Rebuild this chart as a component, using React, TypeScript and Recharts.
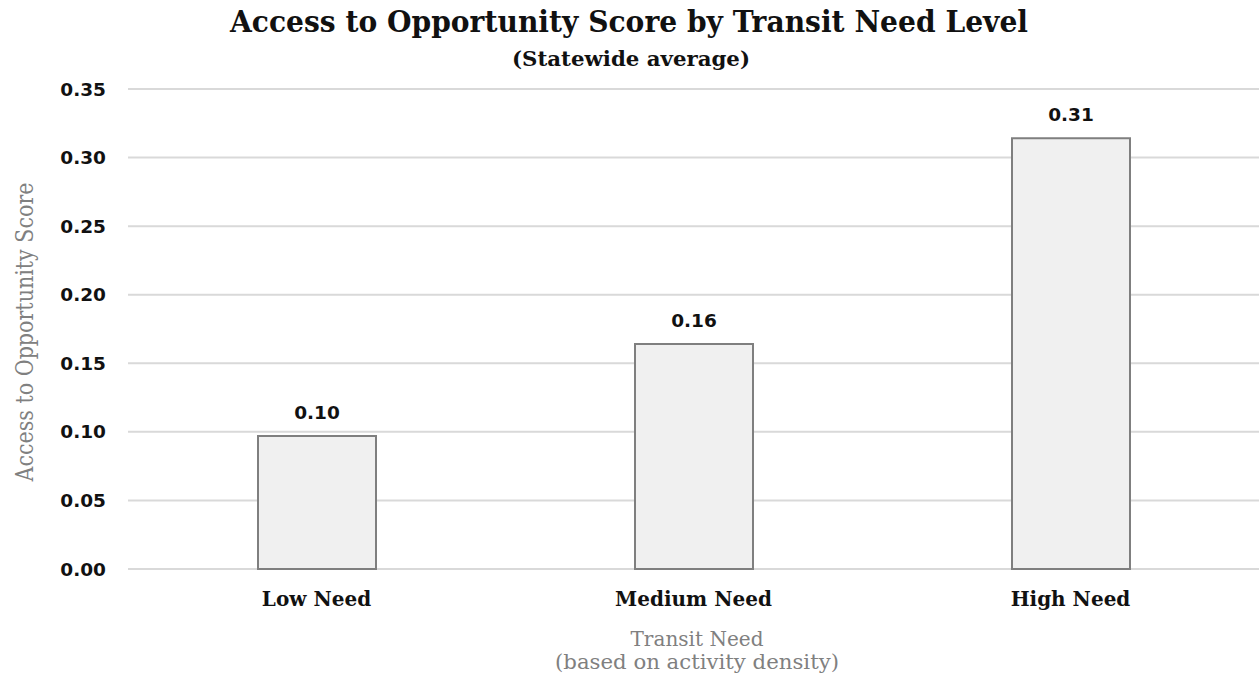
import { Bar, BarChart, CartesianGrid, LabelList, XAxis, YAxis } from "recharts";

const categories = ["Low Need", "Medium Need", "High Need"];
const scores = [0.097, 0.164, 0.314];
const yTicks = [0, 0.05, 0.1, 0.15, 0.2, 0.25, 0.3, 0.35];

const data = categories.map((name, i) => ({ name, score: scores[i] }));

const serif = "'DejaVu Serif', serif";
const sans = "'DejaVu Sans', sans-serif";

const App = () => {
  return (
    <div style={{ position: "relative", width: 1259, height: 683, background: "#fff" }}>
      <style>{`body{margin:0}`}</style>
      <BarChart
        width={1259}
        height={683}
        data={data}
        margin={{ top: 89, right: 0, bottom: 0, left: 0 }}
        barCategoryGap={0}
      >
        <CartesianGrid vertical={false} stroke="#d9d9d9" strokeWidth={2} />
        <XAxis
          dataKey="name"
          height={114}
          axisLine={false}
          tickLine={false}
          tickSize={0}
          tickMargin={23}
          tick={{ fill: "#111", fontFamily: serif, fontWeight: "bold", fontSize: 20 }}
        />
        <YAxis
          width={128}
          domain={[0, 0.35]}
          ticks={yTicks}
          interval={0}
          axisLine={false}
          tickLine={false}
          tickSize={0}
          tickMargin={22}
          tickFormatter={(v: number) => v.toFixed(2)}
          tick={{ fill: "#111", fontFamily: sans, fontWeight: "bold", fontSize: 18.5 }}
        />
        <Bar
          dataKey="score"
          fill="#f0f0f0"
          stroke="#7f7f7f"
          strokeWidth={2}
          barSize={118}
          isAnimationActive={false}
        >
          <LabelList
            dataKey="score"
            position="top"
            offset={17}
            formatter={(v: number) => v.toFixed(2)}
            fill="#111"
            fontFamily={sans}
            fontWeight="bold"
            fontSize={18.5}
          />
        </Bar>
      </BarChart>

      {/* titles */}
      <svg
        width={1259}
        height={683}
        style={{ position: "absolute", left: 0, top: 0, pointerEvents: "none" }}
      >
        <text
          x={629}
          y={32}
          textAnchor="middle"
          fontFamily={serif}
          fontWeight="bold"
          fontSize={29}
          fill="#111"
          textLength={798}
          lengthAdjust="spacingAndGlyphs"
        >
          Access to Opportunity Score by Transit Need Level
        </text>
        <text
          x={631}
          y={66}
          textAnchor="middle"
          fontFamily={serif}
          fontWeight="bold"
          fontSize={21}
          fill="#111"
          textLength={238}
          lengthAdjust="spacingAndGlyphs"
        >
          (Statewide average)
        </text>
        <text
          transform="translate(33, 332) rotate(-90)"
          textAnchor="middle"
          fontFamily={serif}
          fontSize={24}
          fill="#808080"
          textLength={299}
          lengthAdjust="spacingAndGlyphs"
        >
          Access to Opportunity Score
        </text>
        <text
          x={697}
          y={646}
          textAnchor="middle"
          fontFamily={serif}
          fontSize={20}
          fill="#808080"
          textLength={133}
          lengthAdjust="spacingAndGlyphs"
        >
          Transit Need
        </text>
        <text
          x={697}
          y={669}
          textAnchor="middle"
          fontFamily={serif}
          fontSize={20}
          fill="#808080"
          textLength={284}
          lengthAdjust="spacingAndGlyphs"
        >
          (based on activity density)
        </text>
      </svg>
    </div>
  );
};

export default App;
